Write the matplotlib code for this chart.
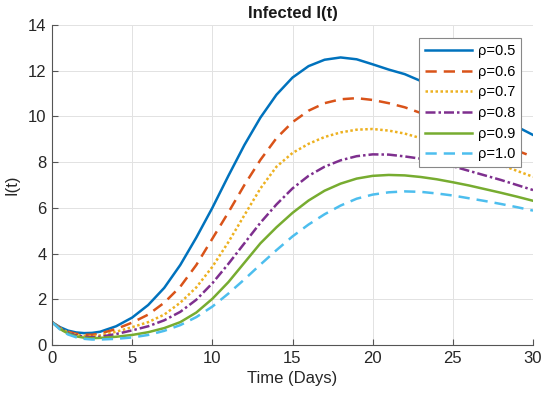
import matplotlib
matplotlib.use("Agg")
import matplotlib.pyplot as plt

plt.rcParams['font.family'] = ['Liberation Sans', 'DejaVu Sans']

# time points (days) and infected values
t = [0, 0.5, 1, 1.5, 2, 2.5, 3, 4, 5, 6, 7, 8, 9, 10, 11, 12, 13, 14, 15,
     16, 17, 18, 19, 20, 21, 22, 23, 24, 25, 26, 27, 28, 29, 30]

rho_05 = [1.00, 0.78, 0.63, 0.55, 0.52, 0.53, 0.58, 0.82, 1.20, 1.75, 2.50, 3.50,
          4.70, 6.00, 7.40, 8.75, 9.95, 10.95, 11.70, 12.20, 12.48, 12.58, 12.50,
          12.28, 12.05, 11.85, 11.55, 11.25, 10.95, 10.60, 10.25, 9.90, 9.55, 9.19]
rho_06 = [1.00, 0.75, 0.58, 0.49, 0.45, 0.45, 0.50, 0.70, 0.98, 1.33, 1.85, 2.55,
          3.50, 4.65, 5.80, 7.00, 8.10, 9.05, 9.75, 10.25, 10.58, 10.75, 10.80,
          10.72, 10.58, 10.40, 10.15, 9.90, 9.60, 9.35, 9.05, 8.80, 8.50, 8.24]
rho_07 = [1.00, 0.73, 0.55, 0.45, 0.40, 0.39, 0.42, 0.58, 0.78, 1.00, 1.33, 1.85,
          2.52, 3.42, 4.50, 5.68, 6.85, 7.80, 8.40, 8.80, 9.10, 9.30, 9.42, 9.45,
          9.38, 9.25, 9.05, 8.85, 8.60, 8.35, 8.10, 7.88, 7.62, 7.36]
rho_08 = [1.00, 0.72, 0.52, 0.42, 0.36, 0.34, 0.36, 0.48, 0.64, 0.82, 1.08, 1.45,
          1.98, 2.70, 3.55, 4.45, 5.35, 6.15, 6.85, 7.40, 7.80, 8.08, 8.26, 8.34,
          8.33, 8.25, 8.15, 8.00, 7.82, 7.62, 7.42, 7.22, 7.00, 6.78]
rho_09 = [1.00, 0.70, 0.50, 0.38, 0.32, 0.30, 0.31, 0.36, 0.44, 0.56, 0.74, 1.00,
          1.42, 2.02, 2.75, 3.60, 4.45, 5.15, 5.78, 6.32, 6.75, 7.06, 7.28, 7.40,
          7.44, 7.42, 7.35, 7.25, 7.12, 6.98, 6.82, 6.66, 6.49, 6.31]
rho_10 = [1.00, 0.68, 0.46, 0.34, 0.27, 0.24, 0.24, 0.27, 0.33, 0.44, 0.62, 0.87,
          1.22, 1.68, 2.25, 2.87, 3.52, 4.15, 4.75, 5.27, 5.72, 6.10, 6.40, 6.58,
          6.68, 6.72, 6.70, 6.63, 6.54, 6.42, 6.30, 6.17, 6.03, 5.88]

labels = ['ρ=0.5', 'ρ=0.6', 'ρ=0.7', 'ρ=0.8', 'ρ=0.9', 'ρ=1.0']
series = [rho_05, rho_06, rho_07, rho_08, rho_09, rho_10]
colors = ['#0072BD', '#D95319', '#EDB120', '#7E2F8E', '#77AC30', '#4DBEEE']
styles = ['-', (0, (4.5, 2.8)), (0, (1, 1)), (0, (4, 1.2, 1, 1.2)), '-', (0, (4.5, 2.8))]

fig = plt.figure(figsize=(5.5, 3.96), dpi=100)
ax = fig.add_axes([52 / 550, 1 - 345 / 396, 481 / 550, 320 / 396])

for y, lab, c, ls in zip(series, labels, colors, styles):
    ax.plot(t, y, color=c, linestyle=ls, linewidth=1.8, label=lab)

ax.set_xlim(0, 30)
ax.set_ylim(0, 14)
ax.set_xticks([0, 5, 10, 15, 20, 25, 30])
ax.set_yticks([0, 2, 4, 6, 8, 10, 12, 14])
ax.grid(True, color='#e2e2e2', linewidth=0.7)
ax.set_axisbelow(True)

for s in ['top', 'right']:
    ax.spines[s].set_visible(False)
for s in ['left', 'bottom']:
    ax.spines[s].set_color('#555555')
    ax.spines[s].set_linewidth(0.8)
ax.tick_params(direction='in', length=4, width=0.8, color='#555555',
               labelsize=12, labelcolor='#262626', pad=4)

ax.set_xlabel('Time (Days)', fontsize=12, color='#262626', labelpad=4)
ax.set_ylabel('I(t)', fontsize=12, color='#262626', labelpad=6)
ax.set_title('Infected I(t)', fontsize=12, fontweight='bold', color='#1a1a1a', pad=5)

leg = ax.legend(loc='upper right', bbox_to_anchor=(0.975, 0.959), fontsize=10.5,
                frameon=True, fancybox=False, framealpha=1, edgecolor='#888888',
                handlelength=3.2, handletextpad=0.4, labelspacing=0.46,
                borderpad=0.4, borderaxespad=0)
leg.get_frame().set_linewidth(0.8)

plt.savefig('out.png', dpi=100)
